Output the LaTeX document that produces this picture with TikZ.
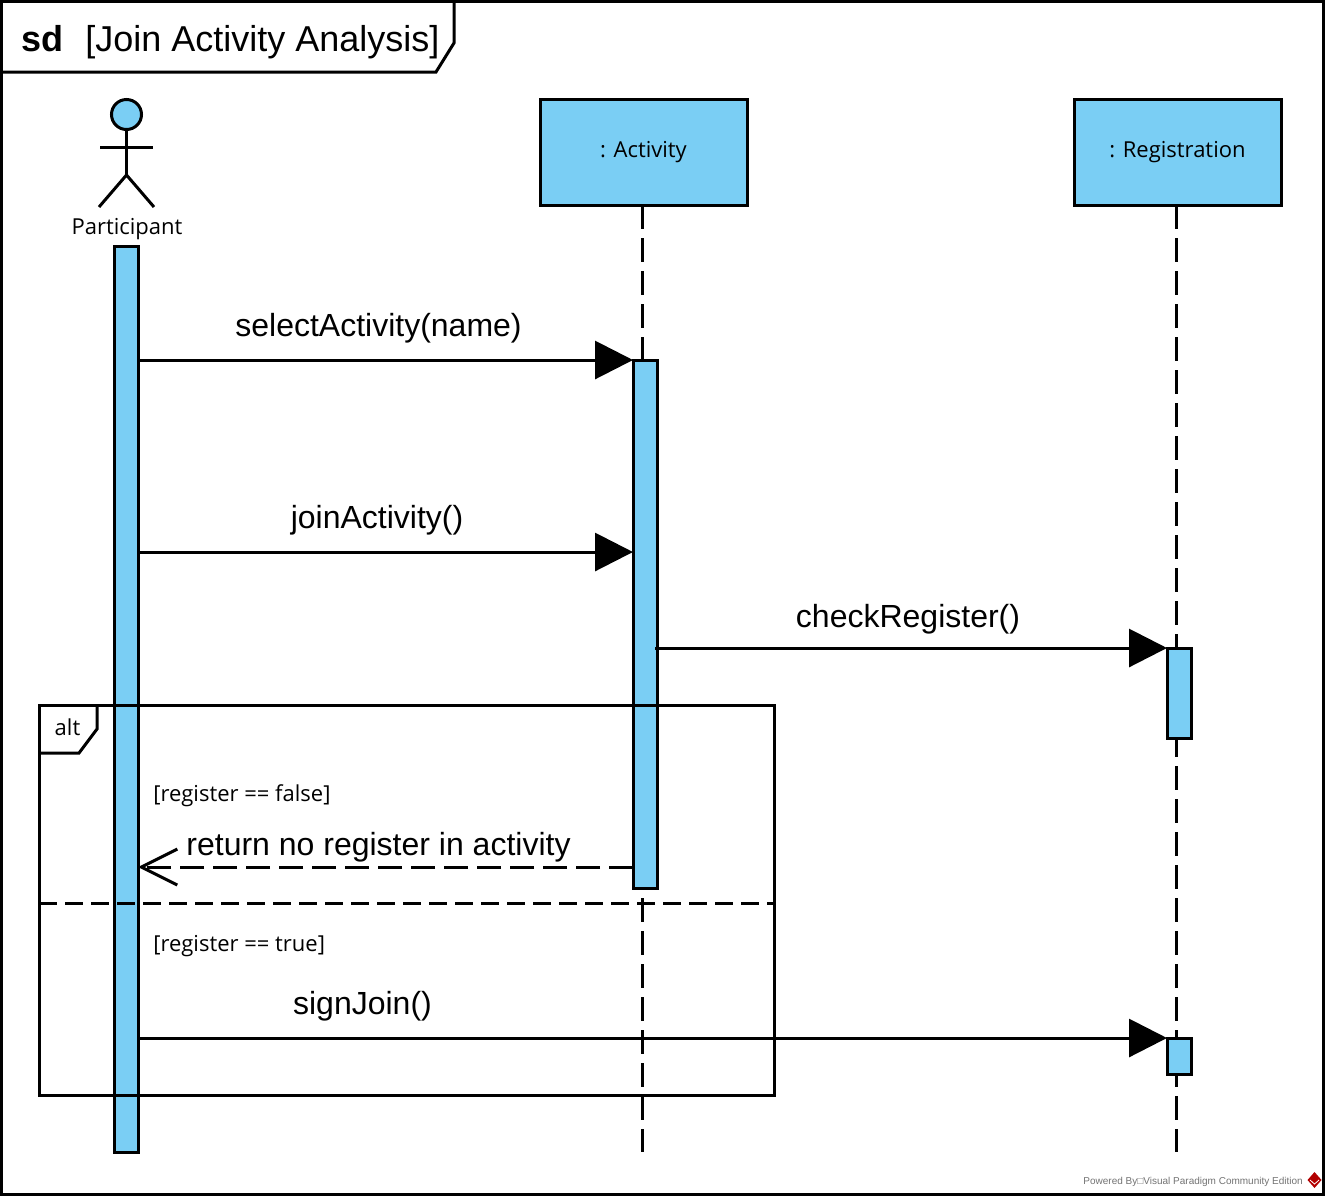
\documentclass[tikz,border=0pt]{standalone}
\usepackage{fontspec}
\setmainfont{Liberation Sans}
\newfontfamily\uifont{Open Sans}
\usetikzlibrary{arrows.meta,calc,positioning}

\definecolor{barblue}{HTML}{7ACEF4}

\tikzset{
  line/.style = {line width=2.25pt},
  headbox/.style = {line, draw, fill=barblue, rectangle, outer sep=0pt, inner sep=0pt,
    minimum width=155.25pt, minimum height=79.5pt, font=\uifont\fontsize{16.5}{18}\selectfont},
  bar/.style = {line, draw, fill=barblue, rectangle, anchor=north, outer sep=0pt, inner sep=0pt,
    minimum width=18pt},
  lifeline/.style = {line, dash pattern=on 18pt off 6.75pt},
  syncmsg/.style = {line, -{Triangle[length=28.5pt,width=28.5pt]}},
  returnmsg/.style = {line, dash pattern=on 18pt off 6.75pt,
    -{Straight Barb[length=27pt,width=27pt,line width=2.25pt]}},
  msglabel/.style = {anchor=base, inner sep=0pt, font=\fontsize{24}{28}\selectfont},
  guard/.style = {anchor=base west, inner sep=0pt, font=\uifont\fontsize{16.5}{18}\selectfont},
}

\begin{document}
\begin{tikzpicture}[x=0.75pt,y=-0.75pt]
    \useasboundingbox (0,0) rectangle (1326,1197);
    \fill[white] (0,0) rectangle (1326,1197);

    \coordinate (framea) at (1,1);
    \coordinate (frameb) at (1323,1194);
    \draw[line] (framea) rectangle (frameb);
    \draw[line] (1,72) -- (436,72) -- (454,43) -- (454,1);
    \node[anchor=base west, inner sep=0pt, font=\bfseries\fontsize{27}{30}\selectfont] (sdword) at (21,51) {sd};
    \node[anchor=base west, inner sep=0pt, font=\fontsize{27}{30}\selectfont] (sdname) at (85,51) {[Join Activity Analysis]};

    \node[line, draw, fill=barblue, circle, minimum size=22.5pt, inner sep=0pt, outer sep=0pt] (head) at (126.5,114.5) {};
    \coordinate (hip) at (126.5,175);
    \coordinate (arml) at (100,147);
    \coordinate (armr) at (153,147);
    \coordinate (legl) at (99,207);
    \coordinate (legr) at (154,207);
    \draw[line] (head.south) -- (hip);
    \draw[line] (arml) -- (armr);
    \draw[line] (legl) -- (hip) -- (legr);
    \node[anchor=base, inner sep=0pt, font=\uifont\fontsize{16.5}{18}\selectfont] (participant) at (127,234) {Participant};

    \node[headbox] (activity) at (643.5,152) {: Activity};
    \node[headbox] (registration) at (1177.5,152) {: Registration};

    \coordinate (atop) at (642,205);
    \coordinate (aend) at (642,1152);
    \coordinate (rtop) at (1176,205);
    \coordinate (rend) at (1176,1152);
    \draw[lifeline] (atop) -- (aend);
    \draw[lifeline] (rtop) -- (rend);

    \node[bar, minimum height=679.5pt] (pbar) at (126,246) {};
    \node[bar, minimum height=396pt] (abar) at (645,360) {};
    \node[bar, minimum height=67.5pt] (rbar) at (1179,648) {};
    \node[bar, minimum height=27pt] (sbar) at (1179,1038) {};

    \coordinate (joinfrom) at (pbar.east |- 0,552);
    \coordinate (jointo) at (abar.west |- 0,552);
    \coordinate (checkfrom) at (655,648);
    \coordinate (returnfrom) at (abar.west |- 0,867);
    \coordinate (returnto) at (pbar.east |- 0,867);
    \coordinate (signfrom) at (pbar.east |- sbar.north);

    \draw[syncmsg] (pbar.east |- abar.north) -- (abar.north west);
    \draw[syncmsg] (joinfrom) -- (jointo);
    \draw[syncmsg] (checkfrom) -- (rbar.north west);

    \node[msglabel] (select) at (378.5,336) {selectActivity(name)};
    \node[msglabel] (join) at (377,528) {joinActivity()};
    \node[msglabel] (check) at (908,627) {checkRegister()};

    \coordinate (alta) at (39,705);
    \coordinate (altb) at (774,1095);
    \draw[line] (alta) rectangle (altb);
    \draw[line] (39,753) -- (79,753) -- (97,729) -- (97,705);
    \node[anchor=base, inner sep=0pt, font=\uifont\fontsize{16.5}{18}\selectfont] (alt) at (67.5,735) {alt};
    \coordinate (sepa) at (39,903);
    \coordinate (sepb) at (774,903);
    \draw[line, dash pattern=on 13.5pt off 6pt] (sepa) -- (sepb);

    \node[guard] (gfalse) at (153,801) {[register == false]};
    \node[guard] (gtrue) at (153,951) {[register == true]};

    \draw[returnmsg] (returnfrom) -- (returnto);
    \draw[syncmsg] (signfrom) -- (sbar.north west);
    \node[msglabel] (return) at (378.5,855) {return no register in activity};
    \node[msglabel] (sign) at (362.5,1014) {signJoin()};

    \node[anchor=base east, inner sep=0pt, text=black!55, font=\fontsize{7.5}{9}\selectfont] (powered) at (1303,1184) {Powered By□Visual Paradigm Community Edition};
    \fill[red!70!black] (1314.5,1172) -- (1321.5,1180) -- (1314.5,1188) -- (1307.5,1180) -- cycle;
    \draw[white, line width=0.6pt] (1310,1180) -- (1314.5,1184) -- (1319,1180);
  \end{tikzpicture}
\end{document}
